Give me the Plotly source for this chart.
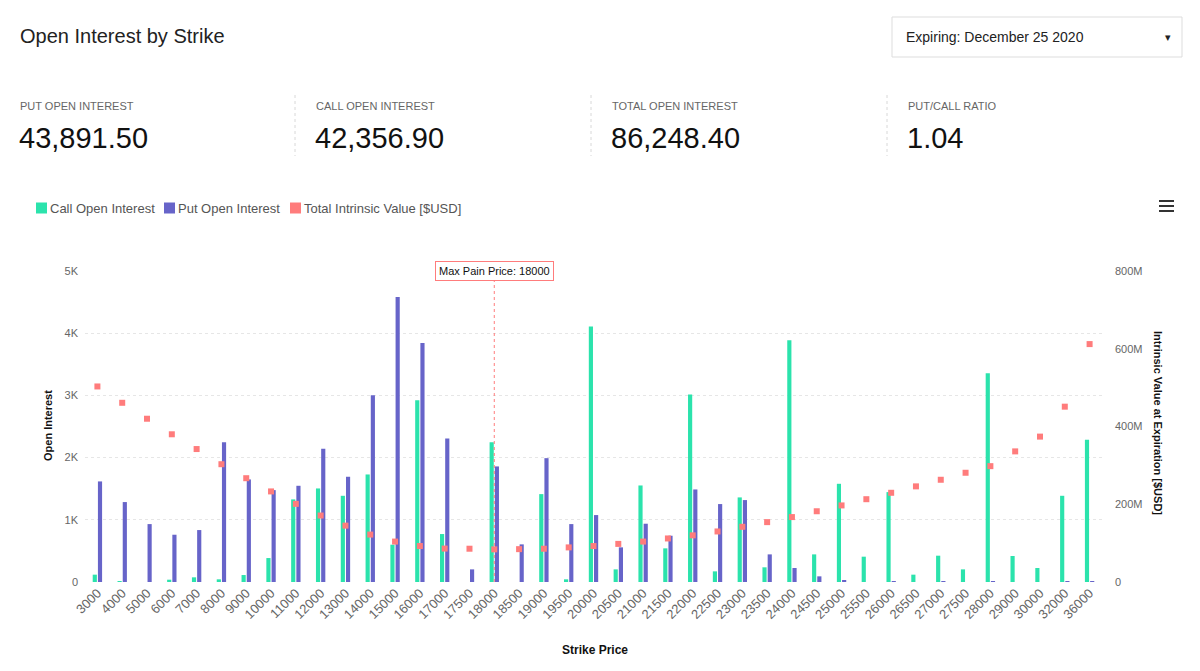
import plotly.graph_objects as go

strikes = ["3000", "4000", "5000", "6000", "7000", "8000", "9000", "10000", "11000", "12000",
           "13000", "14000", "15000", "16000", "17000", "17500", "18000", "18500", "19000", "19500",
           "20000", "20500", "21000", "21500", "22000", "22500", "23000", "23500", "24000", "24500",
           "25000", "25500", "26000", "26500", "27000", "27500", "28000", "29000", "30000", "32000",
           "36000"]

call_oi = [118, 10, 0, 37, 75, 43, 112, 385, 1328, 1504,
           1386, 1729, 600, 2923, 771, 0, 2248, 0, 1413, 43,
           4106, 203, 1552, 541, 3014, 171, 1360, 236, 3887, 444,
           1579, 407, 1445, 118, 423, 203, 3357, 418, 225, 1386,
           2286]

put_oi = [1617, 1285, 931, 760, 835, 2248, 1649, 1477, 1547, 2141,
          1692, 3003, 4582, 3844, 2307, 203, 1858, 605, 1991, 931,
          1076, 557, 937, 744, 1488, 1253, 1317, 444, 225, 91,
          32, 0, 4, 0, 3, 0, 4, 0, 0, 4,
          6]

intrinsic_musd = [503, 461, 420, 380, 342, 303, 267, 233, 201, 171,
                  145, 122, 104, 92.5, 86, 85.6, 84, 84.5, 85.6, 89,
                  92.5, 98, 104, 112, 120, 130, 142, 154, 167, 182,
                  197, 213, 229.5, 246, 263, 281, 298, 336, 374, 451,
                  612]
intrinsic = [v * 1e6 for v in intrinsic_musd]

oi_ticks = [0, 1000, 2000, 3000, 4000, 5000]
oi_ticktext = ["0", "1K", "2K", "3K", "4K", "5K"]
iv_ticks = [0, 200e6, 400e6, 600e6, 800e6]
iv_ticktext = ["0", "200M", "400M", "600M", "800M"]

stat_labels = ["PUT OPEN INTEREST", "CALL OPEN INTEREST", "TOTAL OPEN INTEREST", "PUT/CALL RATIO"]
stat_values = ["43,891.50", "42,356.90", "86,248.40", "1.04"]
max_pain = "18000"
series_names = ["Call Open Interest", "Put Open Interest", "Total Intrinsic Value [$USD]"]

GREEN = "#2BE3AC"
BLUE = "#6764C9"
RED = "#FF7C7C"
FONT = "Liberation Sans"

W, H = 1200, 671
L, R, T, B = 85, 98, 271, 89
PW = W - L - R
PH = H - T - B


def px(x):
    return (x - L) / PW


def py(y):
    return (H - B - y) / PH


fig = go.Figure()
fig.add_trace(go.Bar(x=strikes, y=call_oi, name=series_names[0], marker_color=GREEN,
                     marker_line_width=0))
fig.add_trace(go.Bar(x=strikes, y=put_oi, name=series_names[1], marker_color=BLUE,
                     marker_line_width=0))
fig.add_trace(go.Scatter(x=strikes, y=intrinsic, name=series_names[2], mode="markers",
                         marker=dict(symbol="square", size=6, color=RED), yaxis="y2"))

annotations = []
shapes = []

# Title
annotations.append(dict(text="Open Interest by Strike", x=px(18), y=py(36), xref="paper", yref="paper",
                        xanchor="left", yanchor="middle", showarrow=False,
                        font=dict(size=20, color="#222", family=FONT)))
# Dropdown
shapes.append(dict(type="rect", xref="paper", yref="paper", x0=px(892), x1=px(1182), y0=py(17), y1=py(57),
                   line=dict(color="#dddddd", width=1), fillcolor="white"))
annotations.append(dict(text="Expiring: December 25 2020", x=px(904), y=py(37), xref="paper", yref="paper",
                        xanchor="left", yanchor="middle", showarrow=False,
                        font=dict(size=14, color="#222", family=FONT)))
annotations.append(dict(text="▾", x=px(1168), y=py(38), xref="paper", yref="paper",
                        xanchor="center", yanchor="middle", showarrow=False,
                        font=dict(size=11, color="#222", family="DejaVu Sans")))
# Stats
stat_x = [18, 314, 610, 906]
for i, (lab, val) in enumerate(zip(stat_labels, stat_values)):
    annotations.append(dict(text=lab, x=px(stat_x[i]), y=py(106), xref="paper", yref="paper",
                            xanchor="left", yanchor="middle", showarrow=False,
                            font=dict(size=11, color="#666", family=FONT)))
    annotations.append(dict(text=val, x=px(stat_x[i] - 1), y=py(138), xref="paper", yref="paper",
                            xanchor="left", yanchor="middle", showarrow=False,
                            font=dict(size=29, color="#111", family=FONT)))
for sx in [295, 591, 887]:
    shapes.append(dict(type="line", xref="paper", yref="paper", x0=px(sx), x1=px(sx), y0=py(95), y1=py(156),
                       line=dict(color="#d8d8d8", width=1, dash="dot")))
# Hamburger menu
for hy in [201, 206, 211]:
    shapes.append(dict(type="line", xref="paper", yref="paper", x0=px(1159), x1=px(1174), y0=py(hy), y1=py(hy),
                       line=dict(color="#333", width=2)))
# Custom legend
leg_sq_x = [36, 164, 290]
leg_colors = [GREEN, BLUE, RED]
for i in range(3):
    shapes.append(dict(type="rect", xref="paper", yref="paper", x0=px(leg_sq_x[i]), x1=px(leg_sq_x[i] + 11),
                       y0=py(202.5), y1=py(213.5), line=dict(width=0), fillcolor=leg_colors[i]))
    annotations.append(dict(text=series_names[i], x=px(leg_sq_x[i] + 12), y=py(208.5), xref="paper",
                            yref="paper", xanchor="left", yanchor="middle", showarrow=False,
                            font=dict(size=13, color="#555", family=FONT)))
# Axis titles
annotations.append(dict(text="<b>Open Interest</b>", x=px(48), y=py(426), xref="paper", yref="paper",
                        xanchor="center", yanchor="middle", showarrow=False, textangle=-90,
                        font=dict(size=11, color="#111", family=FONT)))
annotations.append(dict(text="<b>Intrinsic Value at Expiration [$USD]</b>", x=px(1158), y=py(423),
                        xref="paper", yref="paper", xanchor="center", yanchor="middle", showarrow=False,
                        textangle=90, font=dict(size=11, color="#111", family=FONT)))
annotations.append(dict(text="<b>Strike Price</b>", x=px(595), y=py(650), xref="paper", yref="paper",
                        xanchor="center", yanchor="middle", showarrow=False,
                        font=dict(size=12, color="#111", family=FONT)))
# Max pain
mp_idx = strikes.index(max_pain)
shapes.append(dict(type="line", xref="x", yref="paper", x0=mp_idx, x1=mp_idx, y0=0, y1=py(278),
                   line=dict(color=RED, width=1, dash="dot")))
annotations.append(dict(text="Max Pain Price: " + max_pain, x=mp_idx, y=py(271), xref="x", yref="paper",
                        xanchor="center", yanchor="middle", showarrow=False, bgcolor="white",
                        bordercolor=RED, borderwidth=1, borderpad=3,
                        font=dict(size=11, color="#111", family=FONT)))

fig.update_layout(
    width=W, height=H,
    margin=dict(l=L, r=R, t=T, b=B, autoexpand=False),
    paper_bgcolor="white", plot_bgcolor="white",
    font=dict(family=FONT, color="#666"),
    barmode="group", bargap=0.58, bargroupgap=0.2,
    showlegend=False,
    xaxis=dict(type="category", range=[-0.5, len(strikes) - 0.5], tickangle=-45,
               tickfont=dict(size=13, color="#666"),
               showgrid=False, showline=False, zeroline=False, ticks=""),
    yaxis=dict(range=[0, 5000], tickvals=oi_ticks, ticktext=oi_ticktext,
               tickfont=dict(size=11, color="#666"), showgrid=True, gridcolor="#e6e6e6",
               griddash="dot", zeroline=False, showline=False, ticklabelstandoff=6),
    yaxis2=dict(range=[0, 800e6], tickvals=iv_ticks, ticktext=iv_ticktext, overlaying="y", side="right",
                tickfont=dict(size=11, color="#666"), showgrid=False, zeroline=False, showline=False,
                ticklabelstandoff=12),
    annotations=annotations,
    shapes=shapes,
)

fig.write_html("out.html", config={"displayModeBar": False},
               post_script="document.body.style.margin='0';")
